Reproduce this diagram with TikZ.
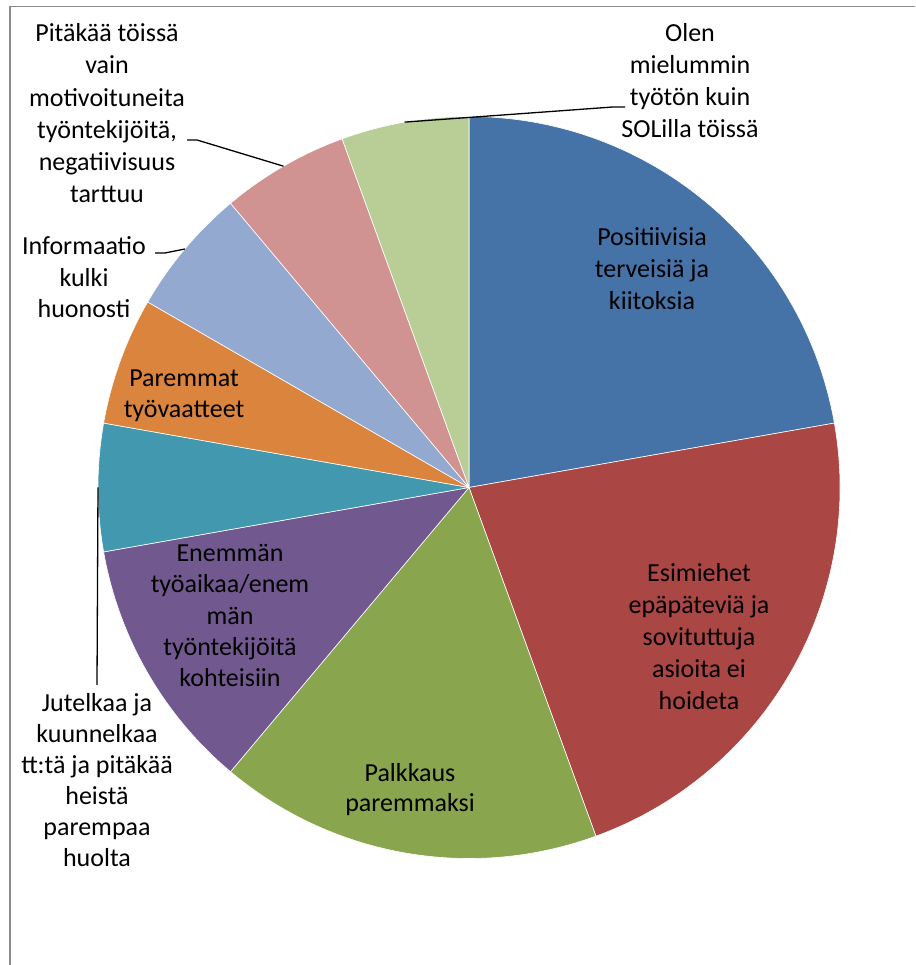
\documentclass[tikz,border=0pt]{standalone}
\usepackage{fontspec}
\setmainfont{Carlito}
\usetikzlibrary{calc}
\definecolor{cBlue}{HTML}{4572A7}
\definecolor{cRed}{HTML}{AA4643}
\definecolor{cGreen}{HTML}{89A54E}
\definecolor{cPurple}{HTML}{71588F}
\definecolor{cTeal}{HTML}{4198AF}
\definecolor{cOrange}{HTML}{DB843D}
\definecolor{cLBlue}{HTML}{93A9CF}
\definecolor{cPink}{HTML}{D19392}
\definecolor{cLGreen}{HTML}{B9CD96}
\definecolor{frameGray}{HTML}{8C8C8C}
\tikzset{
  slice/.style={draw=white, line width=0.6pt, line join=round},
  lbl/.style={anchor=base, inner sep=0pt, align=center, text=black,
    font=\fontsize{26}{#1}\selectfont},
  lbl/.default=32,
  leader/.style={draw=black, line width=1.3pt},
  framebox/.style={draw=frameGray, line width=1.5pt}
}
\newcommand{\pieslice}[3]{%
  \fill[#3] (C) -- ++(#1:371) arc[start angle=#1, end angle=#2, radius=371] -- cycle;
  \draw[slice] (C) -- ++(#1:371) arc[start angle=#1, end angle=#2, radius=371] -- cycle;}
\begin{document}
\begin{tikzpicture}[x=1pt,y=1pt]
\useasboundingbox (0,0) rectangle (915,965);
\fill[white] (0,0) rectangle (915,965);
% frame
\draw[framebox] (10,0) -- (10,958.5) -- (915,958.5);
\coordinate (C) at (469,477.5);
\pieslice{10}{90}{cBlue}
\pieslice{-70}{10}{cRed}
\pieslice{-130}{-70}{cGreen}
\pieslice{-170}{-130}{cPurple}
\pieslice{170}{190}{cTeal}
\pieslice{150}{170}{cOrange}
\pieslice{130}{150}{cLBlue}
\pieslice{110}{130}{cPink}
\pieslice{90}{110}{cLGreen}
% labels inside (anchored at the baseline of the last line)
\node[lbl] (pos) at (652,655) {Positiivisia\\terveisiä ja\\kiitoksia};
\node[lbl] (esi) at (699,255) {Esimiehet\\epäpäteviä ja\\sovituttuja\\asioita ei\\hoideta};
\node[lbl=30] (pal) at (410,153.3) {Palkkaus\\paremmaksi};
\node[lbl=31.25] (ene) at (230,278.3) {Enemmän\\työaikaa/enem\\män\\työntekijöitä\\kohteisiin};
\node[lbl=31.3] (par) at (184,547) {Paremmat\\työvaatteet};
% outside labels
\node[lbl] (ole) at (690,827) {Olen\\mielummin\\työtön kuin\\SOLilla töissä};
\node[lbl=32.3] (pit) at (107,762) {Pitäkää töissä\\vain\\motivoituneita\\työntekijöitä,\\negatiivisuus\\tarttuu};
\node[lbl=31.5] (inf) at (84,647) {Informaatio\\kulki\\huonosti};
\node[lbl=31] (jut) at (97,98.3) {Jutelkaa ja\\kuunnelkaa\\tt:tä ja pitäkää\\heistä\\parempaa\\huolta};
% leader lines
\coordinate (oleP) at ($(C)+(100:371)$);
\coordinate (oleA) at (613,858);
\coordinate (oleB) at (625,858);
\coordinate (pitP) at ($(C)+(120:371)$);
\coordinate (pitA) at (197,825);
\coordinate (pitB) at (187,825);
\coordinate (infP) at ($(C)+(140:371)$);
\coordinate (infA) at (165,712);
\coordinate (infB) at (155,712);
\coordinate (jutP) at ($(C)+(180:371)$);
\coordinate (jutB) at (97,280);
\draw[leader] (oleP) -- (oleA) -- (oleB);
\draw[leader] (pitP) -- (pitA) -- (pitB);
\draw[leader] (infP) -- (infA) -- (infB);
\draw[leader] (jutP) -- (jutB);
\end{tikzpicture}
\end{document}
